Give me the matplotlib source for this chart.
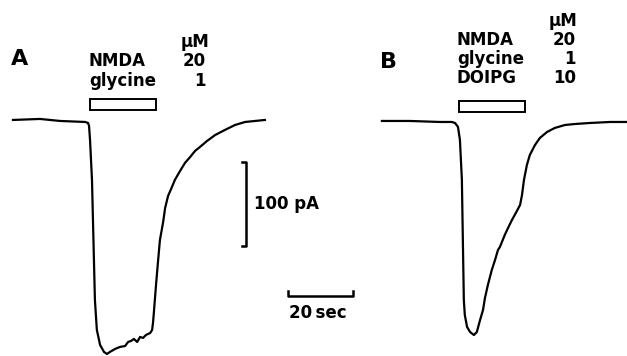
import matplotlib
matplotlib.use("Agg")
import matplotlib.pyplot as plt
from matplotlib.patches import Rectangle

# whole-cell currents, time in s, current in pA
t_a = [0, 8.3, 14.5, 22.2, 23.1, 23.4, 23.7, 24.0, 24.3, 24.6, 24.9, 25.2, 25.8,
       26.8, 28.0, 28.9, 29.8, 31.4, 32.9, 34.5, 35.4, 36.3, 37.2, 38.2, 39.1,
       40.0, 40.9, 42.2, 42.8, 43.1, 43.4, 44.0, 44.6, 45.2, 46.2, 46.8, 47.7,
       48.9, 49.8, 51.4, 52.9, 54.5, 56.0, 57.5, 59.7, 62.2, 65.2, 68.3, 71.4,
       74.5, 77.5]
i_a = [1.2, 2.4, 0, -1.2, -2.4, -6, -22.6, -46.4, -70.2, -117.9, -165.5, -213.1,
       -248.8, -266.7, -275, -277.4, -275, -271.4, -269, -267.9, -263.1, -261.9,
       -259.5, -263.1, -257.1, -258.3, -254.8, -252.4, -248.8, -239.3, -225,
       -195.2, -167.9, -141.7, -120.2, -103.6, -89.3, -78.6, -70.2, -59.5, -50,
       -42.9, -35.7, -31, -23.8, -16.7, -10.7, -4.8, -1.2, 0, 1.2]

t_b = [0, 8.6, 17.8, 21.5, 22.5, 23.4, 24.0, 24.3, 24.6, 24.9, 25.2, 25.5, 26.2,
       27.1, 28.3, 29.2, 30.2, 31.1, 31.7, 32.6, 33.8, 34.8, 35.7, 36.3, 37.8,
       38.8, 40.0, 41.2, 42.5, 43.1, 43.7, 44.6, 45.5, 47.1, 48.6, 50.8, 53.2,
       56.3, 59.4, 64.0, 70.2, 75.4]
i_b = [0, 0, -1.2, -1.2, -2.4, -7.1, -22.6, -46.4, -70.2, -141.7, -213.1, -231,
       -245.2, -251.2, -254.8, -251.2, -236.9, -225, -210.7, -195.2, -177.4,
       -165.5, -153.6, -150, -135.7, -127.4, -117.9, -109.5, -100, -88.1, -70.2,
       -52.4, -40.5, -28.6, -20.2, -13.1, -8.3, -4.8, -3.6, -2.4, -1.2, -1.2]

b_offset = 113.5          # s, where panel B starts
app_start, app_len = 23.7, 20.4   # drug application bar

drugs_a = ["NMDA", "glycine"]
conc_a = ["20", "1"]
drugs_b = ["NMDA", "glycine", "DOIPG"]
conc_b = ["20", "1", "10"]

W, H = 627, 356
fig = plt.figure(figsize=(W / 100, H / 100), dpi=100)
ax = fig.add_axes([0, 0, 1, 1])
ax.set_xlim(-4, 188.9)
ax.set_ylim(-279.8, 144)
ax.axis("off")

lw = 1.6
ax.plot(t_a, i_a, color="black", lw=lw, solid_joinstyle="round")
ax.plot([t + b_offset for t in t_b], i_b, color="black", lw=lw, solid_joinstyle="round")

# application bars
ax.add_patch(Rectangle((app_start, 13.1), app_len, 13.1, fill=False, ec="black", lw=1.4))
ax.add_patch(Rectangle((app_start + b_offset, 10.7), app_len, 13.1, fill=False, ec="black", lw=1.4))

# scale bars: 100 pA and 20 s
vx, vy = 71.7, -149
ax.plot([vx - 1.2, vx, vx, vx - 1.2], [vy + 100, vy + 100, vy, vy], color="black", lw=1.8)
hx, hy = 84.6, -208
ax.plot([hx, hx, hx + 20, hx + 20], [hy + 5, hy, hy, hy + 5], color="black", lw=1.8)


def px(x, y):
    return x / W, 1 - y / H


fs = 12
kw = dict(transform=ax.transAxes, fontfamily="DejaVu Sans", fontweight="bold",
          fontsize=fs, va="baseline")

ax.text(*px(254, 209), "100 pA", ha="left", **kw)
ax.text(*px(289, 318), "20\u2009sec", ha="left", **kw)

# panel A labels
ax.text(*px(11, 65), "A", ha="left", **{**kw, "fontsize": 16})
ax.text(*px(209, 47), "μM", ha="right", **kw)
for k, (d, c) in enumerate(zip(drugs_a, conc_a)):
    y = 66 + 20 * k
    ax.text(*px(89, y), d, ha="left", **kw)
    ax.text(*px(206, y), c, ha="right", **kw)

# panel B labels
ax.text(*px(380, 68), "B", ha="left", **{**kw, "fontsize": 16})
ax.text(*px(577, 26), "μM", ha="right", **kw)
for k, (d, c) in enumerate(zip(drugs_b, conc_b)):
    y = 45 + 19 * k
    ax.text(*px(457, y), d, ha="left", **kw)
    ax.text(*px(576, y), c, ha="right", **kw)

fig.savefig("out.png", dpi=100)
